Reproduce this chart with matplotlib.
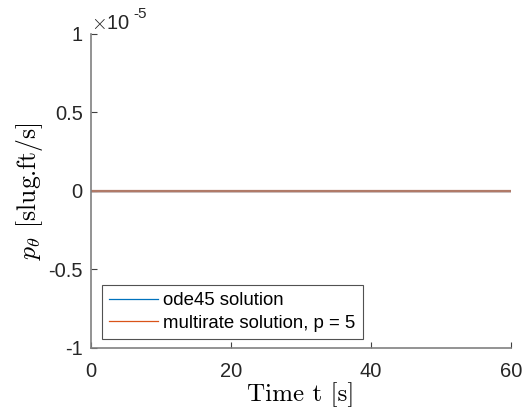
import matplotlib
matplotlib.use("Agg")
import matplotlib.pyplot as plt
from matplotlib.ticker import FuncFormatter

# time samples and momentum values (both solutions stay at zero)
t = [0, 10, 20, 30, 40, 50, 60]
p_ode45 = [0, 0, 0, 0, 0, 0, 0]
p_multirate = [0, 0, 0, 0, 0, 0, 0]
labels = ["ode45 solution", "multirate solution, p = 5"]
x_ticks = [0, 20, 40, 60]
y_ticks = [-1e-5, -0.5e-5, 0, 0.5e-5, 1e-5]

plt.rcParams["font.family"] = ["Liberation Sans", "DejaVu Sans"]
plt.rcParams["mathtext.fontset"] = "cm"
plt.rcParams["axes.unicode_minus"] = False

fig = plt.figure(figsize=(5.26, 4.18), dpi=100)
ax = fig.add_axes([0.173, 0.1675, 0.798, 0.7512])

ax.plot(t, p_ode45, color="#0072BD", lw=1, label=labels[0])
ax.plot(t, p_multirate, color="#D95319", lw=1, label=labels[1])
# overlapping traces look brownish in the original
ax.plot(t, p_multirate, color="#B07A68", lw=1.6)

ax.set_xlim(0, 60)
ax.set_ylim(-1e-5, 1e-5)
ax.set_xticks(x_ticks)
ax.set_yticks(y_ticks)
ax.yaxis.set_major_formatter(FuncFormatter(lambda v, pos: "%g" % round(v / 1e-5, 2)))

for side in ["top", "right"]:
    ax.spines[side].set_visible(False)
for side in ["left", "bottom"]:
    ax.spines[side].set_color("#808080")
    ax.spines[side].set_linewidth(1.2)
ax.tick_params(direction="in", length=4, width=0.8, color="#404040",
               labelsize=14.5, labelcolor="#262626")
ax.tick_params(axis="y", pad=6)
ax.tick_params(axis="x", pad=10)

ax.set_xlabel("Time t [s]", family="cmr10", fontsize=18, labelpad=1)
ax.set_ylabel(r"$p_\theta$ [slug.ft/s]", family="cmr10", fontsize=18.5, labelpad=2)

ax.text(0.0, 1.003, r"$\times$10", transform=ax.transAxes, fontsize=14.5,
        color="#262626", ha="left", va="bottom")
ax.text(0.1, 1.04, "-5", transform=ax.transAxes, fontsize=11,
        color="#262626", ha="left", va="bottom")

leg = ax.legend(loc="lower left", bbox_to_anchor=(0.026, 0.028), fontsize=13.4,
                frameon=True, fancybox=False, handlelength=2.6,
                borderaxespad=0, borderpad=0.4, labelspacing=0.3,
                handletextpad=0.3)
leg.get_frame().set_edgecolor("#262626")
leg.get_frame().set_linewidth(0.8)
for line in leg.get_lines():
    line.set_linewidth(0.9)

fig.savefig("out.png", dpi=100)
